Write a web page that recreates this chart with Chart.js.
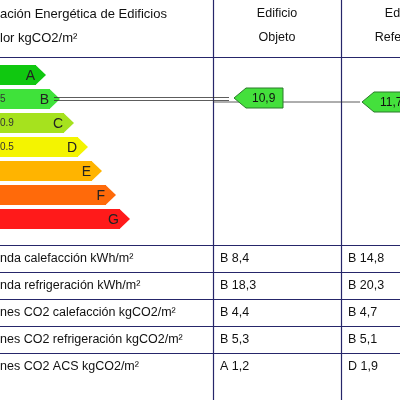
<!DOCTYPE html>
<html>
<head>
<meta charset="utf-8">
<script src="https://cdn.jsdelivr.net/npm/chart.js@4/dist/chart.umd.min.js"></script>
<style>
  html, body { margin: 0; padding: 0; background: #fff; }
  #wrap { width: 400px; height: 400px; }
</style>
</head>
<body>
<div id="wrap"><canvas id="myChart"></canvas></div>
<script>
// energy classes and bar lengths (body, without the tip)
let classes = ['A', 'B', 'C', 'D', 'E', 'F', 'G']
let barLengths = [36, 50, 64, 78, 92, 106, 120]
let barColors = ['#10c810', '#3fe23a', '#a6e21e', '#f4f400', '#ffb400', '#ff6a0a', '#ff1a1a']
let limitLabels = ['', '5', '0.9', '0.5', '', '', '']

// rating of both buildings
let objetoValue = '10,9'
let referenciaValue = '11,7'
let ratedClass = 'B'

// table below the label
let rowLabels = [
    'nda calefacción kWh/m²',
    'nda refrigeración kWh/m²',
    'nes CO2 calefacción kgCO2/m²',
    'nes CO2 refrigeración kgCO2/m²',
    'nes CO2 ACS kgCO2/m²'
]
let objetoCol = ['B 8,4', 'B 18,3', 'B 4,4', 'B 5,3', 'A 1,2']
let referenciaCol = ['B 14,8', 'B 20,3', 'B 4,7', 'B 5,1', 'D 1,9']

const NAVY = '#26266a'
const FONT = '"Liberation Sans", Arial, sans-serif'

let labelPlugin = {
    id: 'labelPlugin',
    beforeDatasetsDraw(chart) {
        let ctx = chart.ctx
        ctx.save()
        ctx.strokeStyle = NAVY
        ctx.lineWidth = 1.2
        // header line and column lines
        ctx.beginPath()
        ctx.moveTo(0, 57.5); ctx.lineTo(400, 57.5)
        ctx.moveTo(213.5, 0); ctx.lineTo(213.5, 400)
        ctx.moveTo(341.5, 0); ctx.lineTo(341.5, 400)
        ;[245, 272, 299, 326, 353].forEach((y) => {
            ctx.moveTo(0, y + 0.5); ctx.lineTo(400, y + 0.5)
        })
        ctx.stroke()
        ctx.restore()
    },
    afterDatasetsDraw(chart) {
        let ctx = chart.ctx
        let meta = chart.getDatasetMeta(0)
        ctx.save()
        // arrow tips and letters
        meta.data.forEach((bar, i) => {
            let h = bar.height
            let top = bar.y - h / 2
            ctx.fillStyle = barColors[i]
            ctx.beginPath()
            ctx.moveTo(bar.x - 0.5, top)
            ctx.lineTo(bar.x + 10, bar.y)
            ctx.lineTo(bar.x - 0.5, top + h)
            ctx.closePath()
            ctx.fill()
            ctx.fillStyle = '#222'
            ctx.font = '14px ' + FONT
            ctx.textAlign = 'right'
            ctx.textBaseline = 'middle'
            ctx.fillText(classes[i], bar.x - 1, bar.y + 1)
            if (limitLabels[i]) {
                ctx.font = '10px ' + FONT
                ctx.textAlign = 'left'
                ctx.fillStyle = '#333'
                ctx.fillText(limitLabels[i], 0, bar.y)
            }
        })

        // rating pointers
        let rated = meta.data[classes.indexOf(ratedClass)]
        let y = rated.y
        ctx.strokeStyle = '#333'
        ctx.lineWidth = 0.8
        ctx.beginPath()
        ctx.moveTo(rated.x + 4, y - 1.5); ctx.lineTo(229, y - 1.5)
        ctx.moveTo(rated.x + 4, y + 1.5); ctx.lineTo(229, y + 1.5)
        ctx.moveTo(213, y + 3); ctx.lineTo(360, y + 3)
        ctx.stroke()

        function pointer(x, yc, text) {
            ctx.fillStyle = '#44e03c'
            ctx.strokeStyle = '#2a7a2a'
            ctx.lineWidth = 1
            ctx.beginPath()
            ctx.moveTo(x, yc)
            ctx.lineTo(x + 12, yc - 10)
            ctx.lineTo(x + 49, yc - 10)
            ctx.lineTo(x + 49, yc + 10)
            ctx.lineTo(x + 12, yc + 10)
            ctx.closePath()
            ctx.fill()
            ctx.stroke()
            ctx.fillStyle = '#111'
            ctx.font = '12px ' + FONT
            ctx.textAlign = 'left'
            ctx.textBaseline = 'middle'
            ctx.fillText(text, x + 18, yc + 1)
        }
        pointer(234, y - 1, objetoValue)
        pointer(362, y + 3, referenciaValue)

        // header texts
        ctx.fillStyle = '#111'
        ctx.font = '13px ' + FONT
        ctx.textBaseline = 'middle'
        ctx.textAlign = 'left'
        ctx.fillText('ación Energética de Edificios', 0, 14)
        ctx.fillText('lor kgCO2/m²', 0, 38)
        ctx.font = '12.5px ' + FONT
        ctx.textAlign = 'center'
        ctx.fillText('Edificio', 277, 14)
        ctx.fillText('Objeto', 277, 38)
        ctx.fillText('Edificio', 405, 14)
        ctx.fillText('Referencia', 405, 38)

        // table rows
        ctx.font = '12.5px ' + FONT
        ctx.textAlign = 'left'
        rowLabels.forEach((label, i) => {
            let ty = 258.5 + i * 27
            ctx.fillText(label, 0, ty)
            ctx.fillText(objetoCol[i], 220, ty)
            ctx.fillText(referenciaCol[i], 348, ty)
        })
        ctx.restore()
    }
}

let config = {
    type: 'bar',
    data: {
        labels: classes,
        datasets: [{
            data: barLengths,
            backgroundColor: barColors,
            borderWidth: 0,
            barPercentage: 0.84,
            categoryPercentage: 1
        }]
    },
    options: {
        indexAxis: 'y',
        responsive: true,
        maintainAspectRatio: false,
        animation: false,
        layout: { padding: { top: 63, bottom: 169, left: 0, right: 0 } },
        scales: {
            x: { display: false, min: 0, max: 400 },
            y: { display: false }
        },
        plugins: {
            legend: { display: false },
            tooltip: { enabled: false }
        }
    },
    plugins: [labelPlugin]
}

let mychart = new Chart(document.getElementById('myChart'), config)
</script>
</body>
</html>
